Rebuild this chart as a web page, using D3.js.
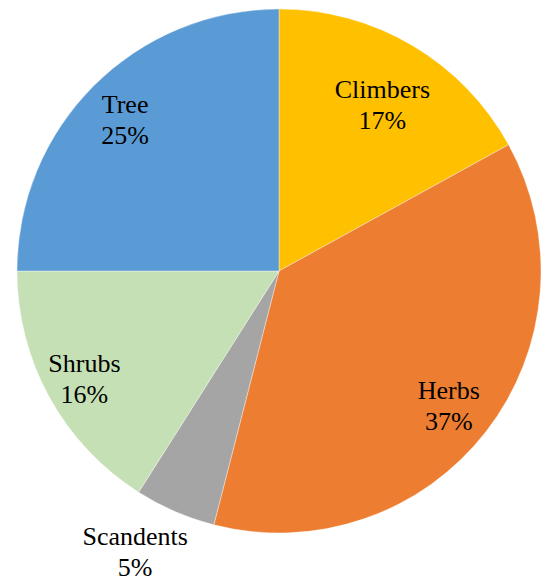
<!DOCTYPE html>
<html>
<head>
<meta charset="utf-8">
<script src="https://cdn.jsdelivr.net/npm/d3@7/dist/d3.min.js"></script>
</head>
<body style="margin:0;background:#fff">
<svg id="chart" width="542" height="581"></svg>
<script>
// Plant habit composition (percent of species)
const categories = ["Climbers", "Herbs", "Scandents", "Shrubs", "Tree"];
const values = [17, 37, 5, 16, 25];
const colors = ["#FFC000", "#ED7D31", "#A5A5A5", "#C5E0B4", "#5B9BD5"];

// Label placement: radius as a fraction of the pie radius, plus small nudges
const labelRadius = [0.76, 0.82, 1.2, 0.83, 0.82];
const labelNudge = [[2, 4], [0, 2], [-19, -9], [-4, 2], [-2, 0]];

const cx = 279, cy = 271, R = 262;

const svg = d3.select("#chart");
const g = svg.append("g").attr("transform", `translate(${cx},${cy})`);

const data = categories.map((c, i) => ({ name: c, value: values[i], color: colors[i], i }));

const pie = d3.pie().sort(null).value(d => d.value);
const arcs = pie(data);
const arc = d3.arc().innerRadius(0).outerRadius(R);

g.selectAll("path.slice")
  .data(arcs)
  .join("path")
  .attr("class", "slice")
  .attr("d", arc)
  .attr("fill", d => d.data.color)
  .attr("stroke", "#fff")
  .attr("stroke-opacity", 0.6)
  .attr("stroke-width", 0.6);

const fmt = v => `${v}%`;

// Two-line labels: category name above, percentage below
arcs.forEach(d => {
  const k = d.data.i;
  const r = R * labelRadius[k];
  const c = d3.arc().innerRadius(r).outerRadius(r).centroid(d);
  const x = c[0] + labelNudge[k][0];
  const y = c[1] + labelNudge[k][1];
  [[d.data.name, y - 6], [fmt(d.data.value), y + 25]].forEach(([str, yy]) => {
    g.append("text")
      .attr("x", x)
      .attr("y", yy)
      .attr("text-anchor", "middle")
      .attr("font-family", "Times New Roman, Liberation Serif, Tinos, serif")
      .attr("font-size", 26)
      .attr("fill", "#000")
      .text(str);
  });
});
</script>
</body>
</html>
